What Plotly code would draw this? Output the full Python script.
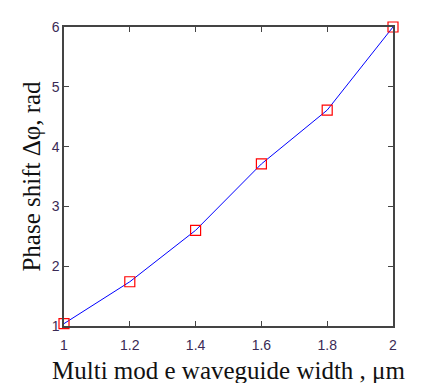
import plotly.graph_objects as go

width_um = [1.0, 1.2, 1.4, 1.6, 1.8, 2.0]
phase_shift = [1.04, 1.74, 2.60, 3.71, 4.61, 6.0]
x_ticks = [1, 1.2, 1.4, 1.6, 1.8, 2]
x_tick_text = ["1", "1.2", "1.4", "1.6", "1.8", "2"]
y_ticks = [1, 2, 3, 4, 5, 6]

fig = go.Figure()
fig.add_trace(go.Scatter(
    x=width_um, y=phase_shift, mode="lines+markers",
    line=dict(color="#0000ff", width=1),
    marker=dict(symbol="square-open", size=10, color="#ff0000", line=dict(width=1.2)),
    showlegend=False, cliponaxis=False,
))

axis_common = dict(
    showline=True, linecolor="#444444", linewidth=1.5, mirror="ticks",
    ticks="inside", ticklen=5, tickcolor="#444444", tickwidth=1,
    showgrid=False, zeroline=False,
    tickfont=dict(family="Liberation Sans, Arial", size=14, color="#3a2a55"),
)

fig.update_xaxes(range=[1, 2], tickvals=x_ticks, ticktext=x_tick_text,
                 ticklabelstandoff=5,
                 title=dict(text="Multi mod e waveguide width , μm",
                            font=dict(family="Liberation Serif, Times New Roman", size=25, color="#111111"),
                            standoff=10),
                 **axis_common)
fig.update_yaxes(range=[1, 6], tickvals=y_ticks,
                 title=dict(text="Phase shift Δφ, rad",
                            font=dict(family="Liberation Serif, Times New Roman", size=25, color="#111111"),
                            standoff=4),
                 **axis_common)

fig.update_layout(
    width=421, height=383,
    margin=dict(l=56, r=36, t=11, b=65),
    paper_bgcolor="white", plot_bgcolor="white",
)
fig.write_html("out.html")
